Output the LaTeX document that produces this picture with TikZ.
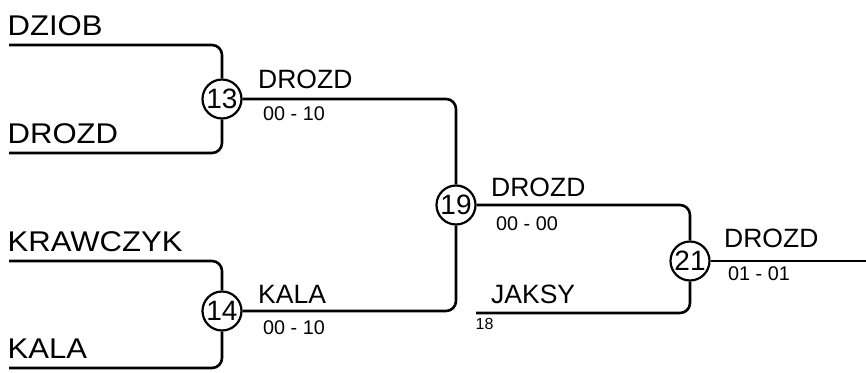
\documentclass[tikz,border=0pt]{standalone}
\usepackage{fontspec}
\setmainfont{Liberation Sans}
\newfontfamily\widesans[FakeStretch=1.09]{Liberation Sans}
\begin{document}
\begin{tikzpicture}[x=1pt,y=-1pt,
  wire/.style={line width=2.6pt,rounded corners=10pt},
  game/.style={circle,draw,line width=2.2pt,minimum size=39pt,inner sep=0pt,fill=white,font=\fontsize{28}{28}\selectfont},
  pname/.style={anchor=base west,inner sep=0pt,font=\widesans\fontsize{28.5}{28.5}\selectfont},
  wname/.style={anchor=base west,inner sep=0pt,font=\fontsize{26.5}{26.5}\selectfont},
  score/.style={anchor=base west,inner sep=0pt,font=\fontsize{19.8}{19.8}\selectfont},
  seed/.style={anchor=base west,inner sep=0pt,font=\fontsize{16}{16}\selectfont}]
\useasboundingbox (0,0) rectangle (866,372);
% start points
\coordinate (sDziob) at (9,45);
\coordinate (sDrozd) at (9,153);
\coordinate (sKraw) at (9,261);
\coordinate (sKala) at (9,368);
\coordinate (sJaksy) at (476,313);
\coordinate (eFinal) at (866,261);
% games
\node[game] (g13) at (222,99) {13};
\node[game] (g14) at (222,311) {14};
\node[game] (g19) at (456,205) {19};
\node[game] (g21) at (690,261) {21};
% connectors
\draw[wire] (sDziob) -| (g13);
\draw[wire] (sDrozd) -| (g13);
\draw[wire] (sKraw) -| (g14);
\draw[wire] (sKala) -| (g14);
\draw[wire] (g13) -| (g19);
\draw[wire] (g14) -| (g19);
\draw[wire] (g19) -| (g21);
\draw[wire] (sJaksy) -| (g21);
\draw[wire] (g21) -- (eFinal);
% player names
\node[pname] (tDziob) at (7.5,35.5) {DZIOB};
\node[pname] (tDrozd) at (7.5,143.5) {DROZD};
\node[pname] (tKraw) at (7.5,251.5) {KRAWCZYK};
\node[pname] (tKala) at (7.5,358.5) {KALA};
% winners and scores
\node[wname] (w13) at (258,88) {DROZD};
\node[score] (s13) at (263,120) {00 - 10};
\node[wname] (w14) at (258,303) {KALA};
\node[score] (s14) at (263,334) {00 - 10};
\node[wname] (w19) at (491,196) {DROZD};
\node[score] (s19) at (496,230) {00 - 00};
\node[wname] (wJ) at (491,303) {JAKSY};
\node[seed] (n18) at (475.5,329) {18};
\node[wname] (w21) at (724,247) {DROZD};
\node[score] (s21) at (728,280) {01 - 01};
\end{tikzpicture}
\end{document}
